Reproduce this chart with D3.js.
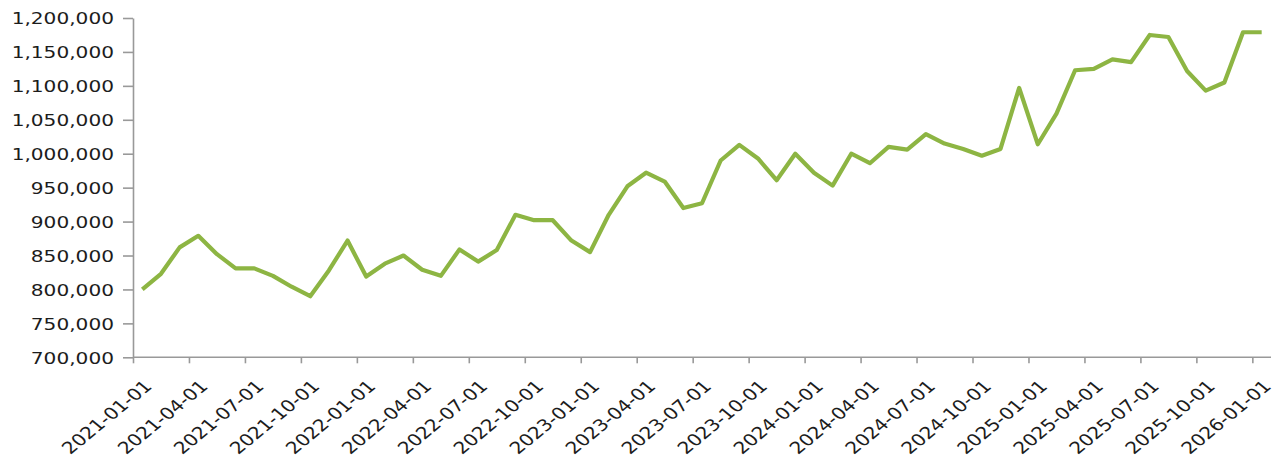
<!DOCTYPE html>
<html>
<head>
<meta charset="utf-8">
<script src="https://cdn.jsdelivr.net/npm/d3@7"></script>
<style>
  html, body { margin: 0; padding: 0; background: #fff; }
  svg { display: block; }
</style>
</head>
<body>
<svg id="chart" width="1283" height="465"></svg>
<script>
// ---- data ----
const startMonth = "2021-01-01";
const endMonth = "2026-01-01";
const values = [
  800000, 823000, 862000, 879000, 852000, 831000, 831000, 820000, 804000, 790000,
  828000, 872000, 819000, 838000, 850000, 829000, 820000, 859000, 841000, 858000,
  910000, 902000, 902000, 872000, 855000, 910000, 952000, 972000, 959000, 920000,
  927000, 990000, 1013000, 993000, 961000, 1000000, 972000, 953000, 1000000, 986000,
  1010000, 1006000, 1029000, 1015000, 1007000, 997000, 1007000, 1097000, 1014000, 1059000,
  1123000, 1125000, 1139000, 1135000, 1175000, 1172000, 1122000, 1093000, 1105000, 1179000,
  1179000
];
const yTicks = [700000, 750000, 800000, 850000, 900000, 950000, 1000000, 1050000, 1100000, 1150000, 1200000];
const xTickEvery = 3;

// ---- setup ----
const parse = d3.timeParse("%Y-%m-%d");
const fmt = d3.timeFormat("%Y-%m-%d");
const months = d3.timeMonth.range(parse(startMonth), d3.timeMonth.offset(parse(endMonth), 1)).map(fmt);
const edges = months.concat([fmt(d3.timeMonth.offset(parse(endMonth), 1))]);
const xTickLabels = months.filter((d, i) => i % xTickEvery === 0);

const STRETCH = 1.22;
const FONT = "'DejaVu Sans', Verdana, sans-serif";
const TEXT_COLOR = "#1c1c1c";
const AXIS_COLOR = "#999999";

const svg = d3.select("#chart");
const mLeft = 133, mRight = 1271, mTop = 18, mBottom = 357.3;

const x = d3.scalePoint().domain(edges).range([mLeft, mRight]);
const half = x.step() / 2;
const y = d3.scaleLinear().domain([700000, 1200000]).range([mBottom, mTop]);

// y axis
const gy = svg.append("g")
  .attr("transform", `translate(${mLeft},0)`)
  .call(d3.axisLeft(y).tickValues(yTicks).tickSize(10).tickSizeOuter(0).tickFormat(d3.format(",")));
gy.selectAll("path, line").attr("stroke", AXIS_COLOR).attr("stroke-width", 1.6);
gy.selectAll("text")
  .attr("font-family", FONT).attr("font-size", 16.5).attr("fill", TEXT_COLOR)
  .attr("x", -19 / STRETCH).attr("dy", "0.36em")
  .attr("transform", `scale(${STRETCH},1)`);

// x axis
const gx = svg.append("g")
  .attr("transform", `translate(0,${mBottom})`)
  .call(d3.axisBottom(x).tickValues(xTickLabels).tickSize(6).tickSizeOuter(0));
gx.selectAll("path, line").attr("stroke", AXIS_COLOR).attr("stroke-width", 1.6);
gx.selectAll("text")
  .attr("font-family", FONT).attr("font-size", 16.5).attr("fill", TEXT_COLOR)
  .attr("x", 0).attr("y", 0).attr("dy", 0)
  .attr("text-anchor", "end")
  .attr("transform", `translate(19.5,30) scale(${STRETCH},1) rotate(-45)`);
gx.selectAll("path.domain").attr("d", `M${mLeft},0H${mRight}`);

// line
const line = d3.line()
  .x((d, i) => x(months[i]) + half)
  .y(d => y(d));
svg.append("path")
  .datum(values)
  .attr("fill", "none")
  .attr("stroke", "#8db543")
  .attr("stroke-width", 4.2)
  .attr("stroke-linejoin", "round")
  .attr("stroke-linecap", "butt")
  .attr("d", line);
</script>
</body>
</html>
